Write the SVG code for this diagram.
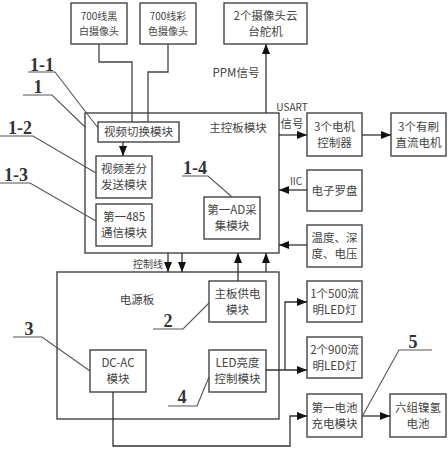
<svg xmlns="http://www.w3.org/2000/svg" width="448" height="450" viewBox="0 0 448 450">
<defs>
<marker id="ah" viewBox="0 0 10 8" refX="10" refY="4" markerWidth="10" markerHeight="8" markerUnits="userSpaceOnUse" orient="auto">
<path d="M0,0 L10,4 L0,8 Z" fill="#111"/>
</marker>
<style>
.b{fill:#fff;stroke:#444;stroke-width:1.4}
.t{font-family:"Noto Sans CJK SC","Liberation Serif",serif;font-size:11.5px;fill:#444;text-anchor:middle}
.s{font-size:10px}
.w{fill:none;stroke:#444;stroke-width:1.3}
.a{fill:none;stroke:#333;stroke-width:1.3;marker-end:url(#ah)}
.n{font-family:"Liberation Serif",serif;font-weight:bold;font-size:18px;fill:#333;text-anchor:middle}
.l{fill:none;stroke:#555;stroke-width:1.1}
</style>
</defs>
<rect width="448" height="450" fill="#fff"/>

<g id="main">
<rect class="b" x="85" y="113" width="194" height="140"/>
<text class="t" x="238" y="132">主控板模块</text>
</g>
<g id="power">
<rect class="b" x="57" y="272" width="222" height="147"/>
<text class="t" x="137" y="304">电源板</text>
</g>
<g id="camA">
<rect class="b" x="71" y="3" width="56" height="41"/>
<text class="t s" x="99" y="19.5">700线黑</text>
<text class="t s" x="99" y="34.5">白摄像头</text>
</g>
<g id="camB">
<rect class="b" x="140" y="3" width="56" height="41"/>
<text class="t s" x="168" y="19.5">700线彩</text>
<text class="t s" x="168" y="34.5">色摄像头</text>
</g>
<g id="servo">
<rect class="b" x="224" y="3" width="83" height="41"/>
<text class="t" x="265.5" y="19.5">2个摄像头云</text>
<text class="t" x="265.5" y="36">台舵机</text>
</g>
<g id="vswitch">
<rect class="b" x="98" y="122" width="81" height="20"/>
<text class="t" x="138.5" y="136">视频切换模块</text>
</g>
<g id="vdiff">
<rect class="b" x="96" y="156" width="56" height="42"/>
<text class="t" x="124" y="173">视频差分</text>
<text class="t" x="124" y="189">发送模块</text>
</g>
<g id="rs485">
<rect class="b" x="96" y="204" width="56" height="42"/>
<text class="t" x="124" y="221">第一485</text>
<text class="t" x="124" y="237">通信模块</text>
</g>
<g id="ad">
<rect class="b" x="204" y="197" width="56" height="42"/>
<text class="t" x="232" y="214">第一AD采</text>
<text class="t" x="232" y="230">集模块</text>
</g>
<g id="motorctl">
<rect class="b" x="307" y="113" width="55" height="43"/>
<text class="t" x="334.5" y="130.5">3个电机</text>
<text class="t" x="334.5" y="146.5">控制器</text>
</g>
<g id="motor">
<rect class="b" x="391" y="113" width="55" height="43"/>
<text class="t" x="418.5" y="130.5">3个有刷</text>
<text class="t" x="418.5" y="146.5">直流电机</text>
</g>
<g id="compass">
<rect class="b" x="307" y="170" width="55" height="41"/>
<text class="t" x="334.5" y="194.5">电子罗盘</text>
</g>
<g id="sensors">
<rect class="b" x="307" y="225" width="55" height="42"/>
<text class="t" x="334.5" y="242">温度、深</text>
<text class="t" x="334.5" y="258">度、电压</text>
</g>
<g id="mbpower">
<rect class="b" x="209" y="281" width="57" height="41"/>
<text class="t" x="237.5" y="297.5">主板供电</text>
<text class="t" x="237.5" y="313.5">模块</text>
</g>
<g id="ledctl">
<rect class="b" x="209" y="350" width="57" height="42"/>
<text class="t" x="237.5" y="367">LED亮度</text>
<text class="t" x="237.5" y="383">控制模块</text>
</g>
<g id="dcac">
<rect class="b" x="90" y="350" width="56" height="42"/>
<text class="t" x="118" y="367">DC-AC</text>
<text class="t" x="118" y="383">模块</text>
</g>
<g id="led500">
<rect class="b" x="307" y="281" width="55" height="41"/>
<text class="t" x="334.5" y="297.5">1个500流</text>
<text class="t" x="334.5" y="313.5">明LED灯</text>
</g>
<g id="led900">
<rect class="b" x="307" y="337" width="55" height="41"/>
<text class="t" x="334.5" y="353.5">2个900流</text>
<text class="t" x="334.5" y="369.5">明LED灯</text>
</g>
<g id="charger">
<rect class="b" x="307" y="394" width="55" height="43"/>
<text class="t" x="334.5" y="411.5">第一电池</text>
<text class="t" x="334.5" y="427.5">充电模块</text>
</g>
<g id="battery">
<rect class="b" x="390" y="394" width="56" height="43"/>
<text class="t" x="418" y="411.5">六组镍氢</text>
<text class="t" x="418" y="427.5">电池</text>
</g>

<g id="connectors">
<polyline class="w" points="99,44 99,62 132,62 132,122"/>
<polyline class="w" points="168,44 168,72 148,72 148,122"/>
<line class="a" x1="123" y1="142" x2="123" y2="156"/>
<line class="a" x1="266" y1="113" x2="266" y2="44"/>
<line class="a" x1="279" y1="135" x2="307" y2="135"/>
<line class="a" x1="362" y1="135" x2="391" y2="135"/>
<line class="a" x1="307" y1="190" x2="279" y2="190"/>
<line class="a" x1="307" y1="245" x2="279" y2="245"/>
<line class="a" x1="168" y1="253" x2="168" y2="272"/>
<line class="a" x1="182" y1="253" x2="182" y2="272"/>
<line class="a" x1="238" y1="281" x2="238" y2="253"/>
<line class="a" x1="266" y1="272" x2="266" y2="253"/>
<line class="a" x1="266" y1="370" x2="307" y2="370"/>
<polyline class="a" points="285,370 285,302 307,302"/>
<polyline class="a" points="113,392 113,446 290,446 290,416 307,416"/>
<line class="a" x1="362" y1="416" x2="390" y2="416"/>
</g>

<g id="edge-labels">
<text class="t" x="236" y="77">PPM信号</text>
<text class="t s" x="292" y="111">USART</text>
<text class="t" x="292" y="128">信号</text>
<text class="t s" x="296" y="185">IIC</text>
<text class="t s" x="148" y="268">控制线</text>
</g>

<g id="callouts">
<text class="n" x="42" y="71">1-1</text>
<polyline class="l" points="28,72 55,72 98,128"/>
<text class="n" x="38" y="93">1</text>
<polyline class="l" points="23,95 52,95 85,127"/>
<text class="n" x="20" y="134">1-2</text>
<polyline class="l" points="0,136 33,136 96,173"/>
<text class="n" x="16" y="181">1-3</text>
<polyline class="l" points="0,183 30,183 96,221"/>
<text class="n" x="195" y="174">1-4</text>
<polyline class="l" points="182,176 208,176 232,197"/>
<text class="n" x="29" y="335">3</text>
<polyline class="l" points="13,337 42,337 90,371"/>
<text class="n" x="168" y="327">2</text>
<polyline class="l" points="153,329 183,329 209,303"/>
<text class="n" x="182" y="403">4</text>
<polyline class="l" points="168,406 197,406 209,377"/>
<text class="n" x="413" y="348">5</text>
<polyline class="l" points="432,350 399,350 363,415"/>
</g>
</svg>
